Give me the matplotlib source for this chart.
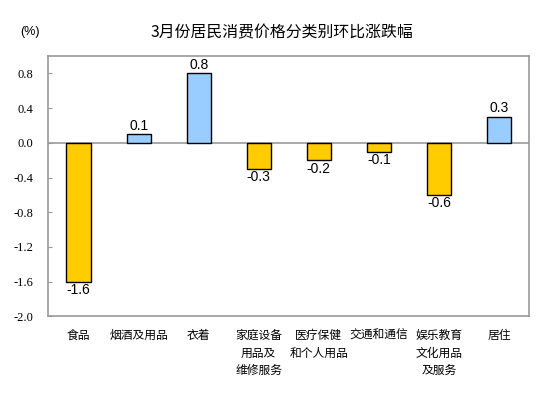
import matplotlib
matplotlib.use("Agg")
import matplotlib.pyplot as plt

plt.rcParams["font.family"] = ["Noto Sans CJK SC", "DejaVu Sans"]

categories = ["食品", "烟酒及用品", "衣着", "家庭设备\n用品及\n维修服务",
              "医疗保健\n和个人用品", "交通和通信", "娱乐教育\n文化用品\n及服务", "居住"]
values = [-1.6, 0.1, 0.8, -0.3, -0.2, -0.1, -0.6, 0.3]
y_ticks = [-2.0, -1.6, -1.2, -0.8, -0.4, 0.0, 0.4, 0.8]

pos_color = "#99CCFF"
neg_color = "#FFCC00"
frame_color = "#999999"

fig = plt.figure(figsize=(5.54, 3.98), dpi=100)
ax = fig.add_axes([0.0875, 0.205, 0.8675, 0.654])

x = list(range(len(values)))
colors = [pos_color if v >= 0 else neg_color for v in values]
bars = ax.bar(x, values, width=0.4, color=colors, edgecolor="black",
              linewidth=1.0, zorder=3)
ax.bar_label(bars, labels=[f"{v:.1f}" for v in values], padding=1,
             fontsize=10, family="Liberation Sans")

ax.axhline(0, color=frame_color, lw=1.2, zorder=2)
ax.set_xlim(-0.5, len(values) - 0.5)
ax.set_ylim(-2.0, 1.0)
ax.set_yticks(y_ticks)
ax.set_yticklabels([f"{t:.1f}" for t in y_ticks], family="Liberation Serif",
                   fontsize=9)
ax.tick_params(axis="y", direction="in", length=3, color=frame_color, pad=11)
ax.set_xticks(x)
ax.set_xticklabels(categories, fontsize=8.5, linespacing=1.45)
ax.tick_params(axis="x", length=0, pad=9)
for s in ax.spines.values():
    s.set_color(frame_color)
    s.set_linewidth(1.2)

fig.text(0.508, 0.918, "3月份居民消费价格分类别环比涨跌幅", ha="center",
         va="center", fontsize=11.4)
fig.text(0.054, 0.92, "(%)", ha="center", va="center", fontsize=9,
         family="Liberation Sans")

fig.savefig("out.png", dpi=100)
